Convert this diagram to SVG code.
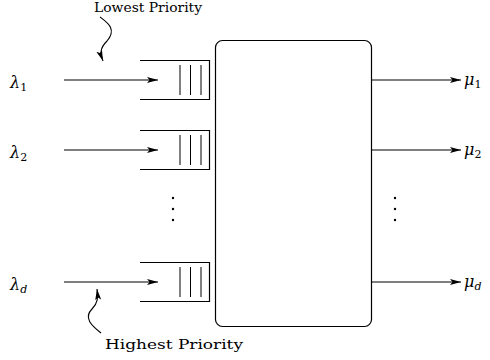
<svg xmlns="http://www.w3.org/2000/svg" width="490" height="360" viewBox="0 0 490 360">
<defs>
<marker id="ah" markerWidth="12" markerHeight="8" refX="11" refY="4" orient="auto" markerUnits="userSpaceOnUse">
<path d="M0,1 L11,4 L0,7 L2.5,4 Z" fill="#000"/>
</marker>
</defs>
<style>
.ln{stroke:#000;stroke-width:1.1;fill:none}
.q{stroke:#000;stroke-width:1.2;fill:none}
.bar{stroke:#000;stroke-width:1;fill:none}
.lbl{font-family:"DejaVu Serif","Liberation Serif",serif;fill:#000}
.sym{font-family:"DejaVu Serif","Liberation Serif",serif;font-style:italic;fill:#000}
</style>
<rect width="490" height="360" fill="#fff"/>
<g id="server">
<rect x="215.5" y="40.5" width="156" height="286" rx="7" ry="7" class="q"/>
</g>
<g id="queue1">
<path d="M140,60.5 H209.5 V99.5 H140" class="q"/>
<path d="M180,65 V95 M190.5,65 V95 M201,65 V95" class="bar"/>
</g>
<g id="queue2">
<path d="M140,130.5 H209.5 V169.5 H140" class="q"/>
<path d="M180,135 V165 M190.5,135 V165 M201,135 V165" class="bar"/>
</g>
<g id="queued">
<path d="M140,262.5 H209.5 V301.5 H140" class="q"/>
<path d="M180,267 V297 M190.5,267 V297 M201,267 V297" class="bar"/>
</g>
<g id="dots">
<circle cx="173" cy="198" r="1.2"/>
<circle cx="173" cy="209" r="1.2"/>
<circle cx="173" cy="220" r="1.2"/>
<circle cx="395" cy="198" r="1.2"/>
<circle cx="395" cy="209" r="1.2"/>
<circle cx="395" cy="220" r="1.2"/>
</g>
<g id="connectors">
<line x1="64" y1="80" x2="158" y2="80" class="ln" marker-end="url(#ah)"/>
<line x1="64" y1="150" x2="158" y2="150" class="ln" marker-end="url(#ah)"/>
<line x1="64" y1="282" x2="158" y2="282" class="ln" marker-end="url(#ah)"/>
<line x1="372" y1="80" x2="461" y2="80" class="ln" marker-end="url(#ah)"/>
<line x1="372" y1="150" x2="461" y2="150" class="ln" marker-end="url(#ah)"/>
<line x1="372" y1="282" x2="461" y2="282" class="ln" marker-end="url(#ah)"/>
<path d="M100,17 C108,23 117,29 107,41 C100,48 100,53 103,61" class="ln" marker-end="url(#ah)"/>
<path d="M101,333 C92,326 83,318 92,309 C98,303 98,298 97,289" class="ln" marker-end="url(#ah)"/>
</g>
<g id="labels">
<text x="94" y="12" class="lbl" font-size="12.5" textLength="108" lengthAdjust="spacingAndGlyphs">Lowest Priority</text>
<text x="105" y="349" class="lbl" font-size="13" textLength="138" lengthAdjust="spacingAndGlyphs">Highest Priority</text>
<text x="10" y="88" class="sym" font-size="16">λ<tspan font-style="normal" font-size="11" dy="3">1</tspan></text>
<text x="10" y="158" class="sym" font-size="16">λ<tspan font-style="normal" font-size="11" dy="3">2</tspan></text>
<text x="10" y="290" class="sym" font-size="16">λ<tspan font-size="11" dy="3">d</tspan></text>
<text x="464" y="85" class="sym" font-size="16">μ<tspan font-style="normal" font-size="11" dy="3">1</tspan></text>
<text x="464" y="155" class="sym" font-size="16">μ<tspan font-style="normal" font-size="11" dy="3">2</tspan></text>
<text x="464" y="287" class="sym" font-size="16">μ<tspan font-size="11" dy="3">d</tspan></text>
</g>
</svg>
